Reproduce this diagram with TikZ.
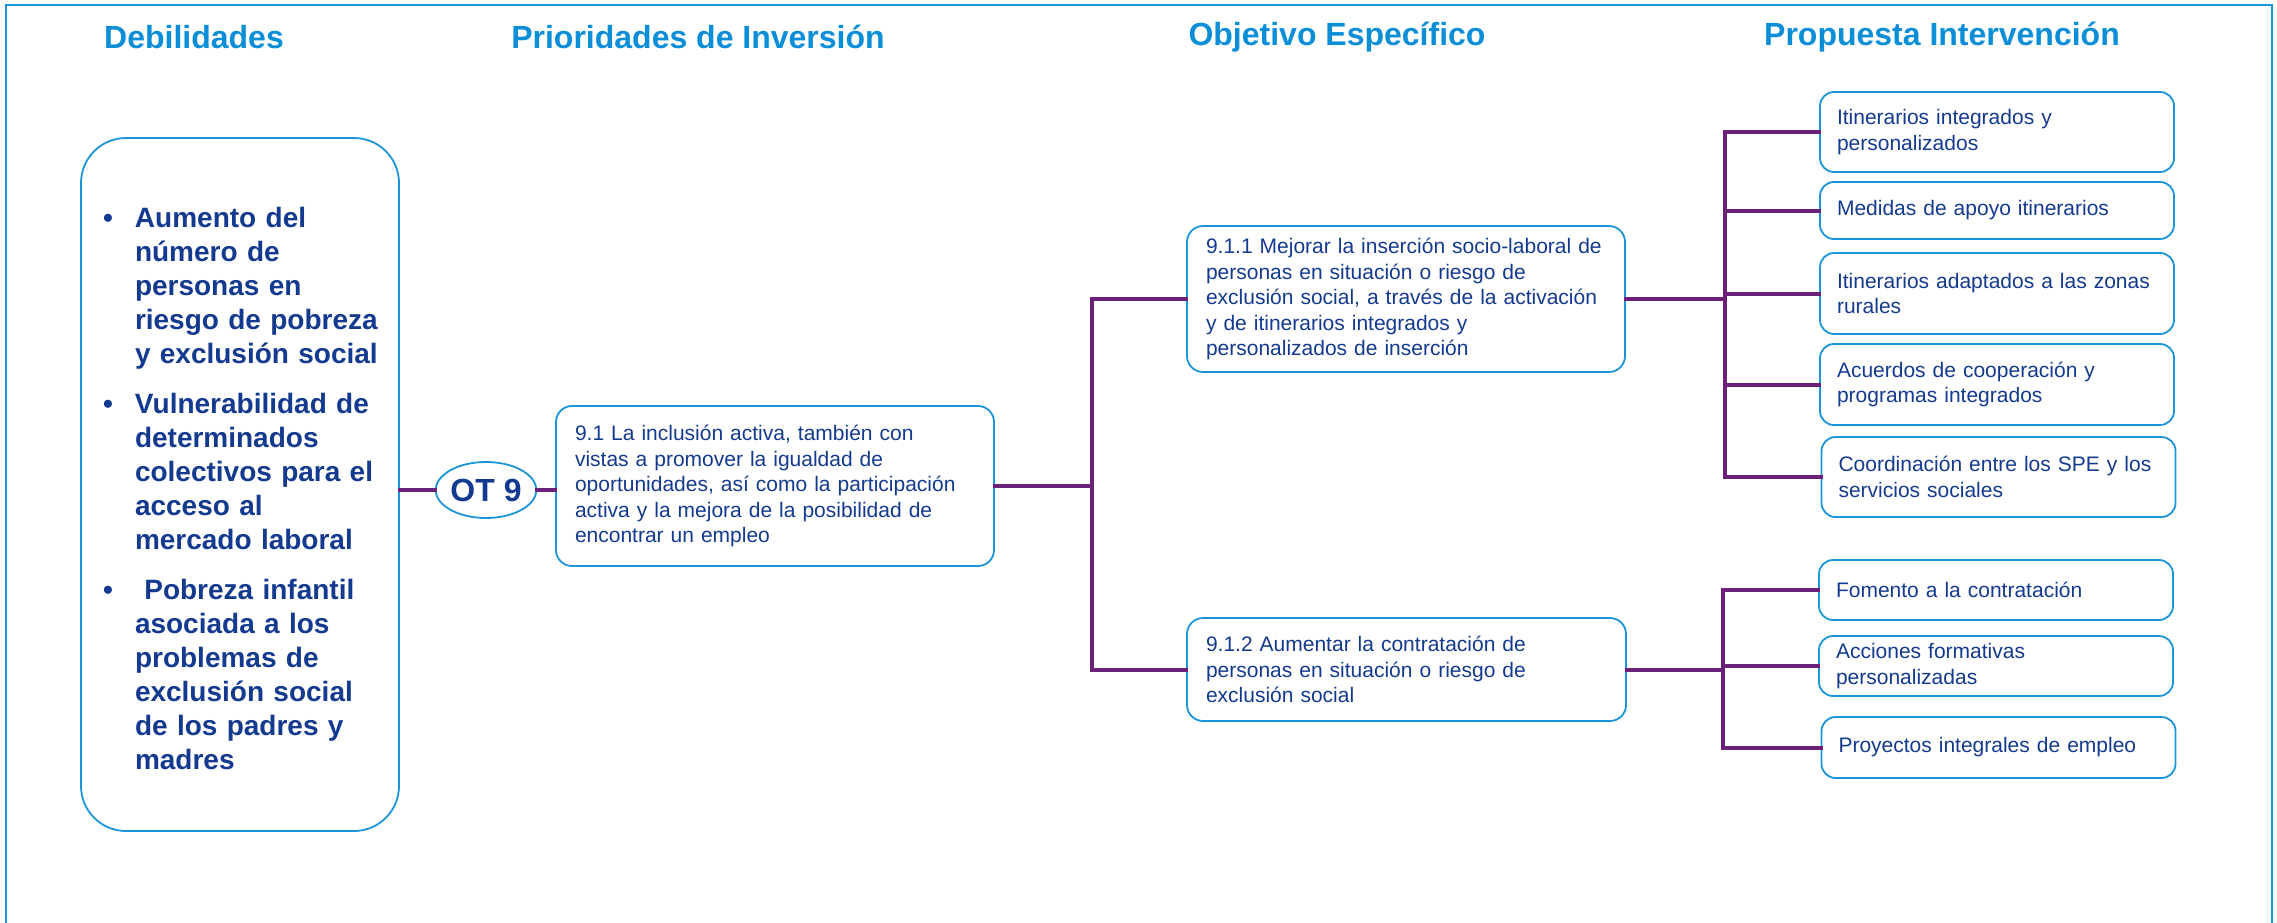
\documentclass[tikz,border=0pt]{standalone}
\usepackage{fontspec}
\setmainfont{Liberation Sans}
\usepackage{tikz}
\usetikzlibrary{shapes.geometric}
\definecolor{mSky}{HTML}{1B95DA}
\definecolor{mHead}{HTML}{0A8ED8}
\definecolor{mNavy}{HTML}{143A8F}
\definecolor{mPurple}{HTML}{6C2178}

\begin{document}
\begin{tikzpicture}[x=1pt, y=-1pt,
    head/.style={font=\fontsize{32}{37}\selectfont\bfseries, text=mHead},
    bx/.style={draw=mSky, line width=1.8pt, rounded corners=16pt, fill=white, text=mNavy,
      font=\fontsize{21}{25.5}\selectfont, align=left, inner xsep=19pt, inner ysep=0pt},
    pbx/.style={bx, inner xsep=17pt, text width=320pt, rounded corners=14pt},
    link/.style={draw=mPurple, line width=4pt, line cap=rect}]
    \useasboundingbox (0,0) rectangle (2277,923);
    \draw[mSky, line width=2pt] (6,5) rectangle (2272,940);

    \node[head] (hdeb) at (194,37) {Debilidades};
    \node[head] (hpri) at (698,37) {Prioridades de Inversión};
    \node[head] (hobj) at (1337,37) {Objetivo Específico};
    \node[head] (hpro) at (1942,37) {Propuesta Intervención};

    \node[bx, rounded corners=45pt, font=\fontsize{28}{34}\selectfont\bfseries, text width=274pt,
      inner xsep=22pt, minimum height=693pt] (deb) at (240,484.5) {%
      \begin{tabular}{@{}p{32pt}@{}l@{}}
        \noalign{\vskip14pt}
        \textbullet & Aumento del\\
                    & número de\\
                    & personas en\\
                    & riesgo de pobreza\\
                    & y exclusión social\\[16pt]
        \textbullet & Vulnerabilidad de\\
                    & determinados\\
                    & colectivos para el\\
                    & acceso al\\
                    & mercado laboral\\[16pt]
        \textbullet & \ Pobreza infantil\\
                    & asociada a los\\
                    & problemas de\\
                    & exclusión social\\
                    & de los padres y\\
                    & madres
      \end{tabular}};

    \node[ellipse, draw=mSky, line width=1.8pt, fill=white, inner sep=0pt, minimum width=94pt,
      minimum height=56pt, text=mNavy, font=\fontsize{32}{37}\selectfont\bfseries] (ot) at (486,490) {OT 9};

    \node[bx, text width=400pt, minimum height=160pt] (p91) at (775,486)
      {9.1 La inclusión activa, también con\\vistas a promover la igualdad de\\oportunidades, así como la participación\\activa y la mejora de la posibilidad de\\encontrar un empleo};

    \node[bx, text width=400pt, minimum height=146pt] (o911) at (1406,299)
      {9.1.1 Mejorar la inserción socio-laboral de\\personas en situación o riesgo de\\exclusión social, a través de la activación\\y de itinerarios integrados y\\personalizados de inserción};
    \node[bx, text width=401pt, minimum height=103pt] (o912) at (1406.5,669.5)
      {9.1.2 Aumentar la contratación de\\personas en situación o riesgo de\\exclusión social};

    \node[pbx, minimum height=80pt] (r1) at (1997,132) {Itinerarios integrados y\\personalizados};
    \node[pbx, minimum height=57pt] (r2) at (1997,210.5) {Medidas de apoyo itinerarios};
    \node[pbx, minimum height=81pt] (r3) at (1997,293.5) {Itinerarios adaptados a las zonas\\rurales};
    \node[pbx, minimum height=81pt] (r4) at (1997,384.5) {Acuerdos de cooperación y\\programas integrados};
    \node[pbx, minimum height=80pt] (r5) at (1998.5,477) {Coordinación entre los SPE y los\\servicios sociales};

    \node[pbx, minimum height=60pt] (f1) at (1996,590) {Fomento a la contratación};
    \node[pbx, minimum height=60pt] (f2) at (1996,666) {Acciones formativas\\personalizadas};
    \node[pbx, minimum height=61pt] (f3) at (1998.5,747.5) {Proyectos integrales de empleo};

    \draw[link] (ot.west) -- (ot.west -| deb.east);
    \draw[link] (ot.east) -- (ot.east -| p91.west);
    \draw[link] (p91.east) -- ++(97,0) coordinate (j1);
    \draw[link] (j1) |- (o911.west);
    \draw[link] (j1) |- (o912.west);

    \draw[link] (o911.east) -- ++(99,0) coordinate (j2);
    \draw[link] (j2) |- (r1.west);
    \draw[link] (j2) |- (r2.west);
    \draw[link] (j2) |- (r3.west);
    \draw[link] (j2) |- (r4.west);
    \draw[link] (j2) |- (r5.west);

    \draw[link] (o912.east) -- ++(96,0) coordinate (j3);
    \draw[link] (j3) |- (f1.west);
    \draw[link] (j3) |- (f2.west);
    \draw[link] (j3) |- (f3.west);
\end{tikzpicture}
\end{document}
